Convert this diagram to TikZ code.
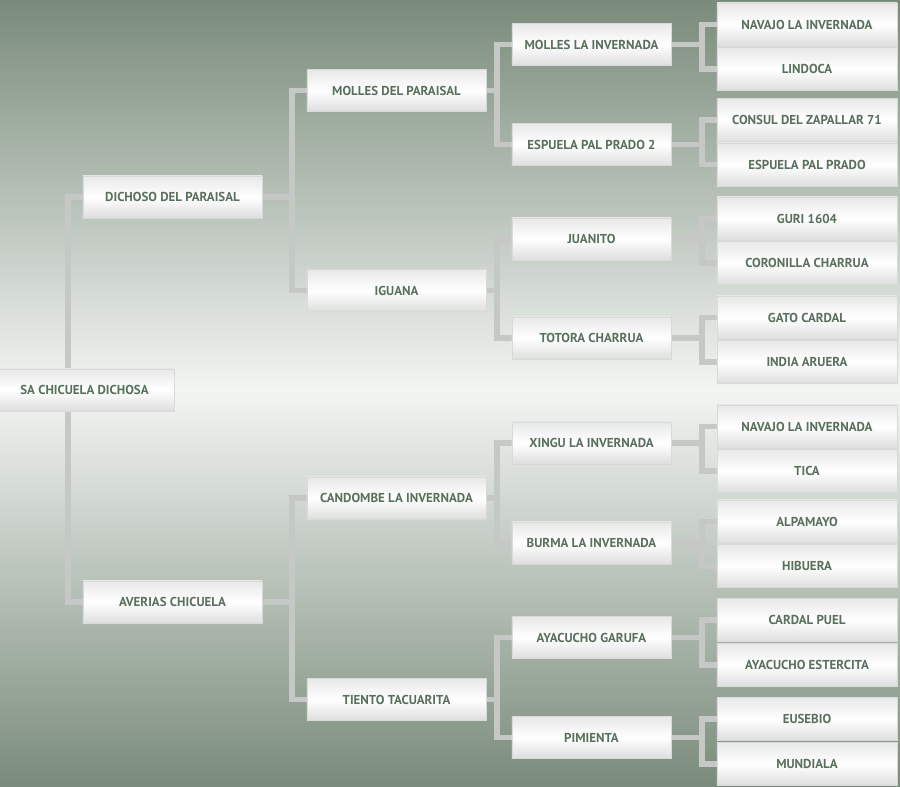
\documentclass[tikz,border=0pt]{standalone}
\usepackage{fontspec}
\setmainfont{PT Sans}
\usetikzlibrary{positioning, backgrounds, calc}
\definecolor{PedGreen}{RGB}{88,112,92}
\definecolor{BgDark}{RGB}{121,139,122}
\definecolor{BgLight}{RGB}{243,245,243}
\definecolor{LinkGray}{RGB}{198,200,198}
\tikzset{
    horse/.style={
        draw=white!85!black, line width=0.4pt, minimum width=4.475cm, minimum height=1.05cm,
        top color=black!9, bottom color=black!13, middle color=white,
        font=\bfseries\fontsize{9.2}{11}\selectfont, text=PedGreen, inner sep=0pt
    },
    grandsire/.style={horse, minimum width=3.975cm},
    leaf/.style={horse, minimum width=4.5cm, minimum height=1.075cm},
    link/.style={line width=4.2pt, LinkGray}
}

\begin{document}
\begin{tikzpicture}[x=0.025cm, y=-0.025cm]
    \useasboundingbox (0,0) rectangle (900,787);

    % generation 0 to 2
    \node[horse] (sa) at (84.5,390) {SA CHICUELA DICHOSA};
    \node[horse] (s) at (172.5,197) {DICHOSO DEL PARAISAL};
    \node[horse] (d) at (172.5,602) {AVERIAS CHICUELA};
    \node[horse] (ss) at (396.5,90.5) {MOLLES DEL PARAISAL};
    \node[horse] (sd) at (396.5,290.5) {IGUANA};
    \node[horse] (ds) at (396.5,498) {CANDOMBE LA INVERNADA};
    \node[horse] (dd) at (396.5,699.5) {TIENTO TACUARITA};

    % generation 3
    \node[grandsire] (sss) at (591.5,44.5) {MOLLES LA INVERNADA};
    \node[grandsire] (ssd) at (591.5,144.5) {ESPUELA PAL PRADO 2};
    \node[grandsire] (sds) at (591.5,239) {JUANITO};
    \node[grandsire] (sdd) at (591.5,338) {TOTORA CHARRUA};
    \node[grandsire] (dss) at (591.5,443) {XINGU LA INVERNADA};
    \node[grandsire] (dsd) at (591.5,543) {BURMA LA INVERNADA};
    \node[grandsire] (dds) at (591.5,637.5) {AYACUCHO GARUFA};
    \node[grandsire] (ddd) at (591.5,737.5) {PIMIENTA};

    % generation 4
    \foreach \n/\y/\t in {ssss/24.5/NAVAJO LA INVERNADA, sssd/69/LINDOCA,
        ssds/120/CONSUL DEL ZAPALLAR 71, ssdd/164.5/ESPUELA PAL PRADO,
        sdss/218.5/GURI 1604, sdsd/263/CORONILLA CHARRUA,
        sdds/317.5/GATO CARDAL, sddd/362/INDIA ARUERA,
        dsss/426.5/NAVAJO LA INVERNADA, dssd/471/TICA,
        dsds/521.5/ALPAMAYO, dsdd/566/HIBUERA,
        ddss/620/CARDAL PUEL, ddsd/665/AYACUCHO ESTERCITA,
        ddds/719/EUSEBIO, dddd/764/MUNDIALA}
        \node[leaf] (\n) at (807,\y) {\t};

    \begin{scope}[on background layer]
        \shade[top color=BgDark, bottom color=BgLight] (0,0) rectangle (900,390);
        \shade[top color=BgLight, bottom color=BgDark] (0,390) rectangle (900,787);
        \foreach \p/\a/\b in {sa/s/d, s/ss/sd, d/ds/dd,
            ss/sss/ssd, sd/sds/sdd, ds/dss/dsd, dd/dds/ddd,
            sss/ssss/sssd, ssd/ssds/ssdd, sds/sdss/sdsd, sdd/sdds/sddd,
            dss/dsss/dssd, dsd/dsds/dsdd, dds/ddss/ddsd, ddd/ddds/dddd} {
            \draw[link] (\a.west) -- ++(-15,0) coordinate (v) |- (\b.west);
            \draw[link] (\p.east) -- (\p.east -| v);
        }
    \end{scope}
\end{tikzpicture}
\end{document}
